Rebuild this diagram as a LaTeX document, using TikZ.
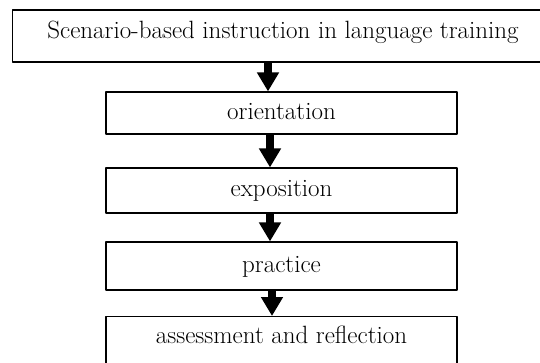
\documentclass[tikz,border=0pt]{standalone}
\usetikzlibrary{arrows.meta}
\begin{document}
\begin{tikzpicture}[x=1pt, y=-1pt, line join=round, font=\fontsize{25}{29}\selectfont,
		stage/.style={draw, line width=1.2pt, minimum width=351pt, inner sep=0pt, text height=17pt, text depth=5pt},
		fatarrow/.style={-{Triangle[width=21pt,length=19pt]}, line width=8pt}]
	\useasboundingbox (0,0) rectangle (540,362);
	\node[stage, draw=none, minimum height=52pt, text height=14pt, text depth=10pt] (title) at (283,36) {Scenario-based instruction in language training};
	\draw[line width=1.2pt] (12.5,10) rectangle (600,62); % runs off the page on the right
	\node[stage, minimum height=42pt] (orient) at (281.5,113) {orientation};
	\node[stage, minimum height=45pt] (expo) at (281.5,190.5) {exposition};
	\node[stage, minimum height=48pt] (pract) at (281.5,266) {practice};
	\node[stage, anchor=north, text height=27pt, text depth=35pt] (assess) at (281.5,316) {assessment and reflection};
	% arrows sit a little left of the middle
	\draw[fatarrow] ([xshift=-13.5pt]orient.north |- title.south)--([xshift=-13.5pt]orient.north);
	\draw[fatarrow] ([xshift=-11.5pt]orient.south)--([xshift=-11.5pt]expo.north);
	\draw[fatarrow] ([xshift=-11.5pt]expo.south)--([xshift=-11.5pt]pract.north);
	\draw[fatarrow] ([xshift=-9.5pt]pract.south)--([xshift=-9.5pt]assess.north);
\end{tikzpicture}
\end{document}
